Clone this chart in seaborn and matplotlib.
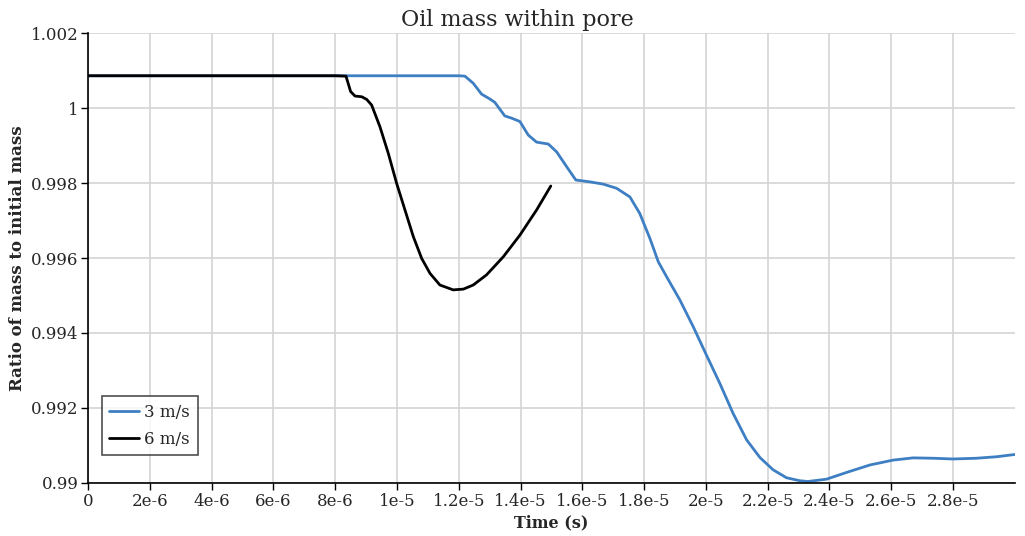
import numpy as np
import pandas as pd
import seaborn as sns
import matplotlib.pyplot as plt

# values
t_3ms = [0, 2e-6, 4e-6, 6e-6, 8e-6, 1.0e-5, 1.2e-5, 1.22e-5, 1.247e-5, 1.274e-5, 1.301e-5,
         1.317e-5, 1.349e-5, 1.371e-5, 1.398e-5, 1.425e-5, 1.452e-5, 1.49e-5, 1.517e-5,
         1.549e-5, 1.579e-5, 1.625e-5, 1.668e-5, 1.711e-5, 1.754e-5, 1.786e-5, 1.819e-5,
         1.846e-5, 1.873e-5, 1.916e-5, 1.959e-5, 2.002e-5, 2.045e-5, 2.088e-5, 2.132e-5,
         2.175e-5, 2.218e-5, 2.261e-5, 2.304e-5, 2.33e-5, 2.39e-5, 2.455e-5, 2.531e-5,
         2.606e-5, 2.671e-5, 2.736e-5, 2.80e-5, 2.876e-5, 2.941e-5, 3.0e-5]
m_3ms = [1.00086, 1.00086, 1.00086, 1.00086, 1.00086, 1.00086, 1.00086, 1.00085, 1.00066,
         1.00037, 1.00024, 1.00015, 0.99979, 0.99973, 0.99964, 0.99928, 0.99909, 0.99904,
         0.99883, 0.99844, 0.99808, 0.99803, 0.99797, 0.99786, 0.99763, 0.99719, 0.99652,
         0.99590, 0.99550, 0.99488, 0.99417, 0.99341, 0.99266, 0.99186, 0.99115, 0.99068,
         0.99035, 0.99014, 0.99006, 0.99004, 0.99010, 0.99028, 0.99048, 0.99061, 0.99067,
         0.99066, 0.99064, 0.99066, 0.99070, 0.99076]

t_6ms = [0, 2e-6, 4e-6, 6e-6, 8e-6, 8.35e-6, 8.50e-6, 8.64e-6, 8.86e-6, 9.02e-6, 9.18e-6,
         9.45e-6, 9.72e-6, 9.99e-6, 1.026e-5, 1.053e-5, 1.08e-5, 1.107e-5, 1.139e-5,
         1.182e-5, 1.215e-5, 1.247e-5, 1.29e-5, 1.344e-5, 1.398e-5, 1.452e-5, 1.498e-5]
m_6ms = [1.00086, 1.00086, 1.00086, 1.00086, 1.00086, 1.00085, 1.00044, 1.00032, 1.00030,
         1.00023, 1.00008, 0.99950, 0.99879, 0.99799, 0.99728, 0.99657, 0.99599, 0.99559,
         0.99528, 0.99515, 0.99517, 0.99528, 0.99555, 0.99603, 0.99661, 0.99728, 0.99792]

df = pd.concat([
    pd.DataFrame({'Time': t_3ms, 'Ratio': m_3ms, 'Speed': '3 m/s'}),
    pd.DataFrame({'Time': t_6ms, 'Ratio': m_6ms, 'Speed': '6 m/s'}),
])

x_ticks = [i * 2e-6 for i in range(15)]
x_labels = ['0', '2e-6', '4e-6', '6e-6', '8e-6', '1e-5', '1.2e-5', '1.4e-5', '1.6e-5',
            '1.8e-5', '2e-5', '2.2e-5', '2.4e-5', '2.6e-5', '2.8e-5']
y_ticks = [0.99, 0.992, 0.994, 0.996, 0.998, 1.0, 1.002]
y_labels = ['0.99', '0.992', '0.994', '0.996', '0.998', '1', '1.002']

sns.set_style('white')
plt.rcParams['font.family'] = ['DejaVu Serif']

fig = plt.figure(figsize=(10.25, 5.36), dpi=100)
ax = fig.add_axes([0.0859, 0.0989, 0.9041, 0.8395])

sns.lineplot(data=df, x='Time', y='Ratio', hue='Speed',
             palette={'3 m/s': '#3d7fc2', '6 m/s': '#000000'},
             linewidth=2, ax=ax, sort=False, estimator=None)

ax.set_xlim(0, 3.0e-5)
ax.set_ylim(0.99, 1.002)
ax.set_xticks(x_ticks)
ax.set_xticklabels(x_labels)
ax.set_yticks(y_ticks)
ax.set_yticklabels(y_labels)
ax.tick_params(axis='both', direction='out', length=5, width=1, color='black',
               labelsize=12, pad=2, bottom=True, left=True)
ax.grid(True, color='#d4d4d4', linewidth=1.2)
ax.set_axisbelow(True)
for side in ['top', 'right']:
    ax.spines[side].set_visible(False)
for side in ['left', 'bottom']:
    ax.spines[side].set_color('black')
    ax.spines[side].set_linewidth(1.2)

# title sits centred on the figure, not on the axes
ax.set_title('Oil mass within pore', fontsize=16, pad=5, x=0.463)
ax.set_xlabel('Time (s)', fontsize=11.5, fontweight='bold', labelpad=3)
ax.set_ylabel('Ratio of mass to initial mass', fontsize=12, fontweight='bold', labelpad=3)

leg = ax.legend(loc='lower left', bbox_to_anchor=(0.015, 0.062), borderaxespad=0,
                fontsize=12, frameon=True, fancybox=False, edgecolor='#222222',
                handlelength=1.8, handletextpad=0.3, borderpad=0.45, labelspacing=0.6)
leg.get_frame().set_linewidth(1.2)

fig.savefig('out.png', dpi=100)
